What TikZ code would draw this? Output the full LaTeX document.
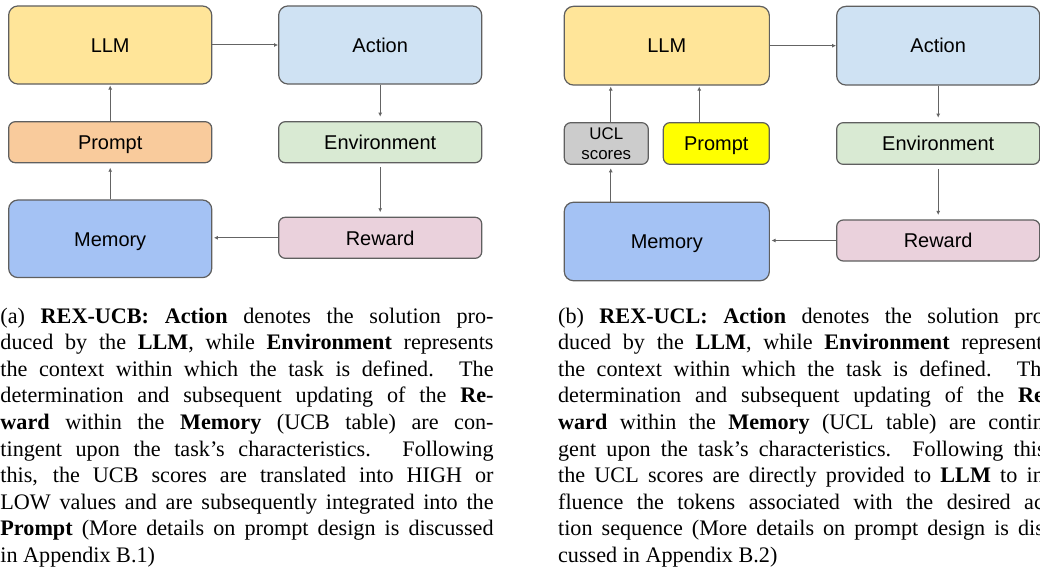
\documentclass[tikz,border=0pt]{standalone}
\usepackage{fontspec}
\setmainfont{Liberation Serif}
\setsansfont{Liberation Sans}
\usetikzlibrary{arrows.meta}
\definecolor{bd}{RGB}{95,95,95}
\definecolor{ar}{RGB}{100,100,100}
\definecolor{cllm}{HTML}{FFE599}
\definecolor{cact}{HTML}{CFE2F3}
\definecolor{cpro}{HTML}{F9CB9C}
\definecolor{cenv}{HTML}{D9EAD3}
\definecolor{cmem}{HTML}{A4C2F4}
\definecolor{crew}{HTML}{EAD1DC}
\definecolor{cucl}{HTML}{CCCCCC}
\definecolor{cyel}{HTML}{FFFF00}
\newlength\capw
\setlength\capw{222.4pt}
\newcommand\capl[1]{\hbox to \capw{#1}}
\begin{document}
\begin{tikzpicture}[x=0.451pt,y=-0.451pt,
  box/.style={draw=bd, line width=0.55pt, rounded corners=4.2pt, inner sep=0pt,
    font=\sffamily\fontsize{9}{10}\selectfont, text=black},
  lbl/.style={text height=6.5pt, text depth=0pt},
  big/.style={box, lbl, minimum width=91.6pt, minimum height=35.2pt},
  small/.style={box, lbl, minimum width=91.6pt, minimum height=18.5pt, rounded corners=3pt},
  arr/.style={draw=ar, line width=0.45pt, -{Latex[length=1.8pt,width=1.8pt]}},
  captext/.style={anchor=base west, inner sep=0pt, font=\fontsize{10}{12}\selectfont}]
\useasboundingbox (0,0) rectangle (1040,571);
% ---------- panel (a) ----------
\node[big, fill=cllm] (aLLM) at (110.2,45) {LLM};
\node[big, fill=cact] (aAct) at (380.2,45) {Action};
\node[small, fill=cpro] (aPro) at (110.2,142.2) {Prompt};
\node[small, fill=cenv] (aEnv) at (380.2,142.2) {Environment};
\node[big, fill=cmem, minimum height=35pt] (aMem) at (110.2,238.8) {Memory};
\node[small, fill=crew] (aRew) at (380.2,237.8) {Reward};
\draw[arr] (aLLM.east) -- (aAct.west);
\draw[arr, shorten >=2pt] (aAct.south) -- (aEnv.north);
\draw[arr, shorten <=1.8pt, shorten >=2pt] (aEnv.south) -- (aRew.north);
\draw[arr, shorten >=0.7pt] (aRew.west) -- (aRew.west -| aMem.east);
\draw[arr, shorten >=2pt] (aMem.north) -- (aPro.south);
\draw[arr, shorten >=0.4pt] (aPro.north) -- (aLLM.south);
% ---------- panel (b) ----------
\node[big, fill=cllm, minimum width=92.5pt, minimum height=35.5pt] (bLLM) at (666.8,45.7) {LLM};
\node[big, fill=cact, minimum height=35.5pt] (bAct) at (938.2,45.7) {Action};
\node[small, fill=cucl, minimum width=37.9pt, minimum height=18.8pt, align=center,
  text height={}, text depth={},
  font=\sffamily\fontsize{7.6}{8.9}\selectfont] (bUCL) at (606.3,143.5) {UCL\\scores};
\node[small, fill=cyel, minimum width=47.8pt, minimum height=18.8pt] (bPro) at (716.3,143.5) {Prompt};
\node[small, fill=cenv, minimum height=18.8pt] (bEnv) at (938.2,143.5) {Environment};
\node[big, fill=cmem, minimum width=92.5pt, minimum height=35.4pt] (bMem) at (666.8,241.5) {Memory};
\node[small, fill=crew] (bRew) at (938.2,240.5) {Reward};
\draw[arr] (bLLM.east) -- (bAct.west);
\draw[arr, shorten >=2pt] (bAct.south) -- (bEnv.north);
\draw[arr, shorten <=1.8pt, shorten >=2pt] (bEnv.south) -- (bRew.north);
\draw[arr, shorten >=0.7pt] (bRew.west) -- (bRew.west -| bMem.east);
\draw[arr, shorten >=1.5pt] ([xshift=2pt]bUCL.south |- bMem.north) -- ([xshift=2pt]bUCL.south);
\draw[arr, shorten >=0.4pt] ([xshift=2pt]bUCL.north) -- ([xshift=2pt]bUCL.north |- bLLM.south);
\draw[arr, shorten >=0.4pt] ([xshift=-7.7pt]bPro.north) -- ([xshift=-7.7pt]bPro.north |- bLLM.south);
% ---------- captions ----------
\node[captext] (capA) at (0,323) {\vtop{\baselineskip=12pt
\capl{(a) \textbf{REX-UCB: Action} denotes the solution pro-}
\capl{duced by the \textbf{LLM}, while \textbf{Environment} represents}
\capl{the context within which the task is defined.  The}
\capl{determination and subsequent updating of the \textbf{Re-}}
\capl{\textbf{ward} within the \textbf{Memory} (UCB table) are con-}
\capl{tingent upon the task's characteristics.  Following}
\capl{this, the UCB scores are translated into HIGH or}
\capl{LOW values and are subsequently integrated into the}
\capl{\textbf{Prompt} (More details on prompt design is discussed}
\hbox{in Appendix B.1)}}};
\node[captext] (capB) at (557.7,323) {\vtop{\baselineskip=12pt
\capl{(b) \textbf{REX-UCL: Action} denotes the solution pro-}
\capl{duced by the \textbf{LLM}, while \textbf{Environment} represents}
\capl{the context within which the task is defined.  The}
\capl{determination and subsequent updating of the \textbf{Re-}}
\capl{\textbf{ward} within the \textbf{Memory} (UCL table) are contin-}
\capl{gent upon the task's characteristics. Following this,}
\capl{the UCL scores are directly provided to \textbf{LLM} to in-}
\capl{fluence the tokens associated with the desired ac-}
\capl{tion sequence (More details on prompt design is dis-}
\hbox{cussed in Appendix B.2)}}};
\end{tikzpicture}
\end{document}
